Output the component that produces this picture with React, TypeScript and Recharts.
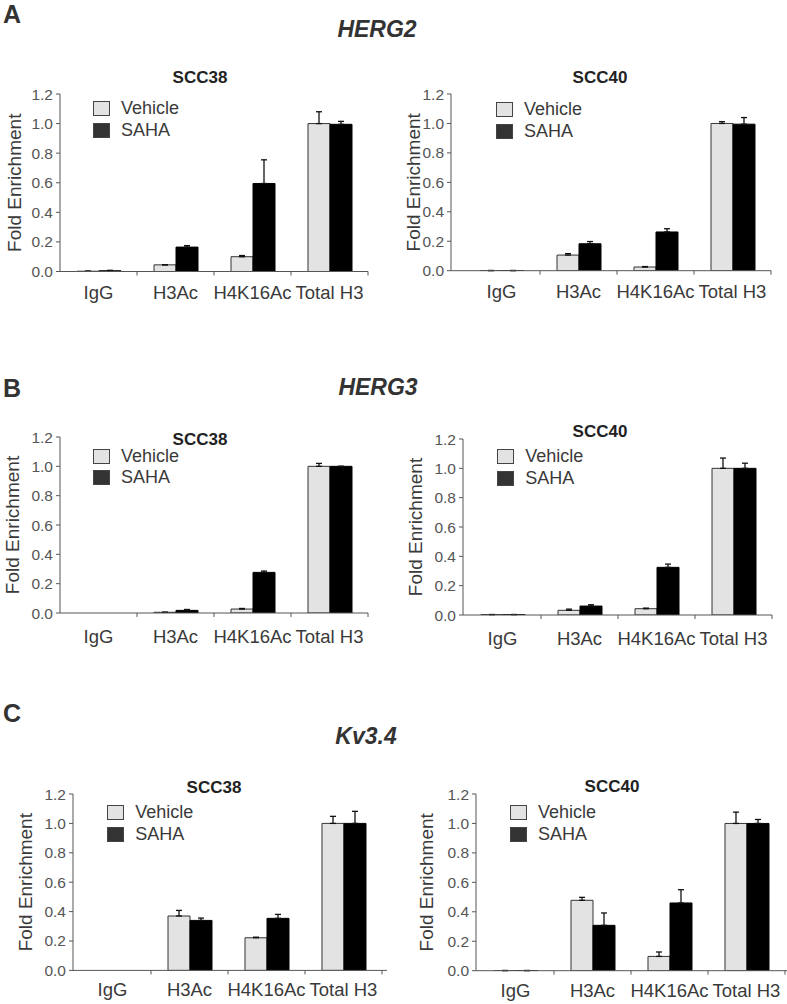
import React from 'react';
import { BarChart, Bar, XAxis, YAxis, ErrorBar, Legend, Label } from 'recharts';

const categories = ['IgG', 'H3Ac', 'H4K16Ac', 'Total H3'];
const yTicks = [0, 0.2, 0.4, 0.6, 0.8, 1.0, 1.2];
const seriesOrder = ['Vehicle', 'SAHA'];

// HERG2
const herg2Scc38Vehicle = [0.002, 0.045, 0.1, 1.0];
const herg2Scc38VehicleErr = [0, 0, 0.008, 0.08];
const herg2Scc38Saha = [0.005, 0.165, 0.595, 0.995];
const herg2Scc38SahaErr = [0.003, 0.01, 0.16, 0.02];

const herg2Scc40Vehicle = [0.001, 0.106, 0.025, 1.0];
const herg2Scc40VehicleErr = [0, 0.01, 0.003, 0.012];
const herg2Scc40Saha = [0.001, 0.183, 0.263, 0.995];
const herg2Scc40SahaErr = [0, 0.015, 0.022, 0.045];

// HERG3
const herg3Scc38Vehicle = [0, 0.005, 0.027, 1.0];
const herg3Scc38VehicleErr = [0, 0, 0.004, 0.02];
const herg3Scc38Saha = [0, 0.018, 0.277, 1.0];
const herg3Scc38SahaErr = [0, 0.006, 0.009, 0];

const herg3Scc40Vehicle = [0.003, 0.032, 0.043, 1.0];
const herg3Scc40VehicleErr = [0, 0.008, 0.004, 0.07];
const herg3Scc40Saha = [0.003, 0.061, 0.325, 1.0];
const herg3Scc40SahaErr = [0, 0.009, 0.022, 0.035];

// Kv3.4
const kv34Scc38Vehicle = [0, 0.37, 0.222, 1.0];
const kv34Scc38VehicleErr = [0, 0.038, 0.004, 0.048];
const kv34Scc38Saha = [0, 0.34, 0.354, 1.0];
const kv34Scc38SahaErr = [0, 0.016, 0.027, 0.082];

const kv34Scc40Vehicle = [0.001, 0.478, 0.097, 1.0];
const kv34Scc40VehicleErr = [0, 0.02, 0.03, 0.077];
const kv34Scc40Saha = [0.001, 0.308, 0.46, 1.0];
const kv34Scc40SahaErr = [0, 0.084, 0.09, 0.027];

const buildRows = (veh: number[], vehErr: number[], saha: number[], sahaErr: number[]) =>
  categories.map((category, i) => ({
    category,
    vehicle: veh[i],
    vehicleErr: [0, vehErr[i]],
    saha: saha[i],
    sahaErr: [0, sahaErr[i]],
  }));

const FONT = "'Liberation Sans', Arial, sans-serif";
const TEXT = '#3a3a3a';
const AXIS = '#555';
const Y_W = 60;
const M_TOP = 10;
const X_H = 40;
const CAT_W = 77;

// placement of each small chart on the page
const panels = [
  { key: 'a38', title: 'SCC38', rows: buildRows(herg2Scc38Vehicle, herg2Scc38VehicleErr, herg2Scc38Saha, herg2Scc38SahaErr),
    axisX: 60, plotTop: 94, plotBottom: 271.5, padL: 0, padR: 0, labelD: 46, titleX: 200, titleY: 83, legendTop: 98, tickBase: 27 },
  { key: 'a40', title: 'SCC40', rows: buildRows(herg2Scc40Vehicle, herg2Scc40VehicleErr, herg2Scc40Saha, herg2Scc40SahaErr),
    axisX: 451, plotTop: 94.3, plotBottom: 271, padL: 12, padR: 0, labelD: 38, titleX: 600, titleY: 83, legendTop: 99, tickBase: 27 },
  { key: 'b38', title: 'SCC38', rows: buildRows(herg3Scc38Vehicle, herg3Scc38VehicleErr, herg3Scc38Saha, herg3Scc38SahaErr),
    axisX: 60, plotTop: 437.3, plotBottom: 613.3, padL: 0, padR: 0, labelD: 48, titleX: 200, titleY: 445, legendTop: 445.5, tickBase: 30 },
  { key: 'b40', title: 'SCC40', rows: buildRows(herg3Scc40Vehicle, herg3Scc40VehicleErr, herg3Scc40Saha, herg3Scc40SahaErr),
    axisX: 463.3, plotTop: 439.3, plotBottom: 615.3, padL: 1, padR: 0, labelD: 48, titleX: 600, titleY: 437, legendTop: 446, tickBase: 30 },
  { key: 'c38', title: 'SCC38', rows: buildRows(kv34Scc38Vehicle, kv34Scc38VehicleErr, kv34Scc38Saha, kv34Scc38SahaErr),
    axisX: 73.3, plotTop: 794.3, plotBottom: 970.7, padL: 1, padR: 5, labelD: 48, titleX: 214, titleY: 792.7, legendTop: 802, tickBase: 26 },
  { key: 'c40', title: 'SCC40', rows: buildRows(kv34Scc40Vehicle, kv34Scc40VehicleErr, kv34Scc40Saha, kv34Scc40SahaErr),
    axisX: 476, plotTop: 794.3, plotBottom: 971, padL: 1, padR: 3, labelD: 50, titleX: 612, titleY: 791.7, legendTop: 802, tickBase: 26 },
];

const headings = [
  { letter: 'A', letterY: 23, gene: 'HERG2', geneX: 377, geneY: 37 },
  { letter: 'B', letterY: 397, gene: 'HERG3', geneX: 378, geneY: 395 },
  { letter: 'C', letterY: 722, gene: 'Kv3.4', geneX: 366, geneY: 744 },
];

const CategoryTick = (props: any) => {
  const { x, y, payload, base } = props;
  const half = payload && payload.offset ? payload.offset : CAT_W / 2;
  return (
    <g>
      <line x1={x + half} y1={y} x2={x + half} y2={y + 4} stroke={AXIS} strokeWidth={1} />
      <text x={x} y={y + base} textAnchor="middle" fontSize={18.5} fill={TEXT}>
        {payload.value}
      </text>
    </g>
  );
};

const LegendBoxes = (props: any) => {
  const items = [...(props.payload || [])].sort(
    (a: any, b: any) => seriesOrder.indexOf(a.value) - seriesOrder.indexOf(b.value)
  );
  return (
    <div>
      {items.map((p: any) => (
        <div key={p.value} style={{ display: 'flex', alignItems: 'center', height: 21.5 }}>
          <span
            style={{
              width: 15,
              height: 13,
              boxSizing: 'content-box',
              background: p.value === 'SAHA' ? '#333' : '#e3e3e3',
              border: '1px solid #444',
            }}
          />
          <span style={{ marginLeft: 11, fontSize: 18, color: TEXT, fontFamily: FONT }}>{p.value}</span>
        </div>
      ))}
    </div>
  );
};

const Panel = ({ cfg }: { cfg: any }) => {
  const plotH = cfg.plotBottom - cfg.plotTop;
  const left = cfg.axisX - Y_W;
  const top = cfg.plotTop - M_TOP;
  const width = Y_W + cfg.padL + CAT_W * 4 + cfg.padR + 2;
  const height = M_TOP + plotH + X_H;
  return (
    <div style={{ position: 'absolute', left, top }}>
      <BarChart
        width={width}
        height={height}
        data={cfg.rows}
        margin={{ top: M_TOP, right: 2, left: 0, bottom: 0 }}
        barGap={0}
        barSize={22}
      >
        <XAxis
          dataKey="category"
          height={X_H}
          padding={{ left: cfg.padL, right: cfg.padR }}
          stroke={AXIS}
          tickLine={false}
          tickSize={0}
          tickMargin={0}
          interval={0}
          tick={<CategoryTick base={cfg.tickBase} />}
        />
        <YAxis
          width={Y_W}
          domain={[0, 1.2]}
          ticks={yTicks}
          tickFormatter={(v: number) => v.toFixed(1)}
          stroke={AXIS}
          tickSize={4}
          tickMargin={3}
          tick={{ fill: '#555', fontSize: 15.5 }}
          allowDataOverflow
        >
          <Label
            value="Fold Enrichment"
            angle={-90}
            position="insideLeft"
            offset={Y_W - cfg.labelD}
            style={{ textAnchor: 'middle', fontSize: 19, fill: TEXT }}
          />
        </YAxis>
        <Legend
          layout="horizontal"
          align="center"
          verticalAlign="middle"
          content={<LegendBoxes />}
          wrapperStyle={{
            left: cfg.padL + Y_W + 33,
            top: cfg.legendTop - top,
            width: 'auto',
            height: 'auto',
          }}
        />
        <Bar dataKey="vehicle" name="Vehicle" fill="#e3e3e3" stroke="#333" strokeWidth={1} isAnimationActive={false}>
          <ErrorBar dataKey="vehicleErr" width={3} stroke="#111" strokeWidth={1.3} direction="y" />
        </Bar>
        <Bar dataKey="saha" name="SAHA" fill="#000" stroke="#000" strokeWidth={1} isAnimationActive={false}>
          <ErrorBar dataKey="sahaErr" width={3} stroke="#111" strokeWidth={1.3} direction="y" />
        </Bar>
      </BarChart>
    </div>
  );
};

export default function App() {
  return (
    <div
      style={{
        position: 'absolute',
        left: 0,
        top: 0,
        width: 787,
        height: 1004,
        background: '#fff',
        fontFamily: FONT,
        overflow: 'hidden',
      }}
    >
      {panels.map((p) => (
        <Panel key={p.key} cfg={p} />
      ))}
      <svg width={787} height={1004} style={{ position: 'absolute', left: 0, top: 0, pointerEvents: 'none' }}>
        {headings.map((h) => (
          <g key={h.letter}>
            <text x={3} y={h.letterY} fontSize={25} fontWeight="bold" fill="#333">
              {h.letter}
            </text>
            <text x={h.geneX} y={h.geneY} textAnchor="middle" fontSize={23} fontWeight="bold" fontStyle="italic" fill="#333">
              {h.gene}
            </text>
          </g>
        ))}
        {panels.map((p) => (
          <text key={p.key} x={p.titleX} y={p.titleY} textAnchor="middle" fontSize={17} fontWeight="bold" fill="#222">
            {p.title}
          </text>
        ))}
      </svg>
    </div>
  );
}
